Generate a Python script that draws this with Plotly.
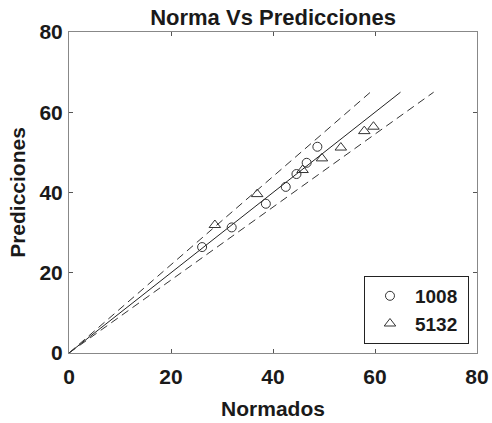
import plotly.graph_objects as go

# data
norm_1008 = [26.1, 31.9, 38.6, 42.5, 44.6, 46.6, 48.7]
pred_1008 = [26.4, 31.3, 37.2, 41.4, 44.6, 47.4, 51.4]
norm_5132 = [28.6, 36.9, 45.8, 49.6, 53.3, 57.9, 59.7]
pred_5132 = [31.9, 39.6, 45.6, 48.5, 51.2, 55.3, 56.4]
ref_x = [0, 65]
ref_y = [0, 65]
upper_x = [0, 59.1]
upper_y = [0, 65]
lower_x = [0, 71.5]
lower_y = [0, 65]

FONT = "Liberation Sans, Arial, sans-serif"
INK = "#1a1a1a"

fig = go.Figure()
fig.add_trace(go.Scatter(x=ref_x, y=ref_y, mode="lines", line=dict(color="#222", width=1), showlegend=False, hoverinfo="skip"))
fig.add_trace(go.Scatter(x=upper_x, y=upper_y, mode="lines", line=dict(color="#333", width=1, dash="8px,5px"), showlegend=False, hoverinfo="skip"))
fig.add_trace(go.Scatter(x=lower_x, y=lower_y, mode="lines", line=dict(color="#333", width=1, dash="8px,5px"), showlegend=False, hoverinfo="skip"))
fig.add_trace(go.Scatter(x=norm_1008, y=pred_1008, mode="markers", name="1008\u00a0",
                         marker=dict(symbol="circle-open", size=9, color="#333", line=dict(width=1))))
fig.add_trace(go.Scatter(x=norm_5132, y=pred_5132, mode="markers", name="5132\u00a0",
                         marker=dict(symbol="triangle-up-open", size=10, color="#333", line=dict(width=1))))

axis_common = dict(
    range=[0, 80], tickvals=[0, 20, 40, 60, 80], ticks="inside", ticklen=4, tickcolor="#555",
    showline=True, linecolor="#888", linewidth=1, mirror="ticks", showgrid=False, zeroline=False,
    automargin=False,
    tickfont=dict(family=FONT, size=21, color=INK, weight="bold"),
)
fig.update_xaxes(**axis_common, ticklabelstandoff=5,
                 title=dict(text="Normados", font=dict(family=FONT, size=21, color=INK, weight="bold"), standoff=14))
fig.update_yaxes(**axis_common, ticklabelstandoff=1,
                 title=dict(text="Predicciones", font=dict(family=FONT, size=21, color=INK, weight="bold"), standoff=8))

fig.update_layout(
    width=492, height=423,
    margin=dict(l=69, r=15, t=32, b=70),
    paper_bgcolor="white", plot_bgcolor="white",
    title=dict(text="Norma Vs Predicciones", x=0.555, xanchor="center", y=0.96, yanchor="middle",
               font=dict(family=FONT, size=22, color=INK, weight="bold")),
    legend=dict(x=0.723, y=0.24, xanchor="left", yanchor="top", bgcolor="white",
                bordercolor="#222", borderwidth=1, font=dict(family=FONT, size=19, color=INK, weight="bold"),
                itemwidth=40),
    showlegend=True,
)
fig.write_html("out.html")
